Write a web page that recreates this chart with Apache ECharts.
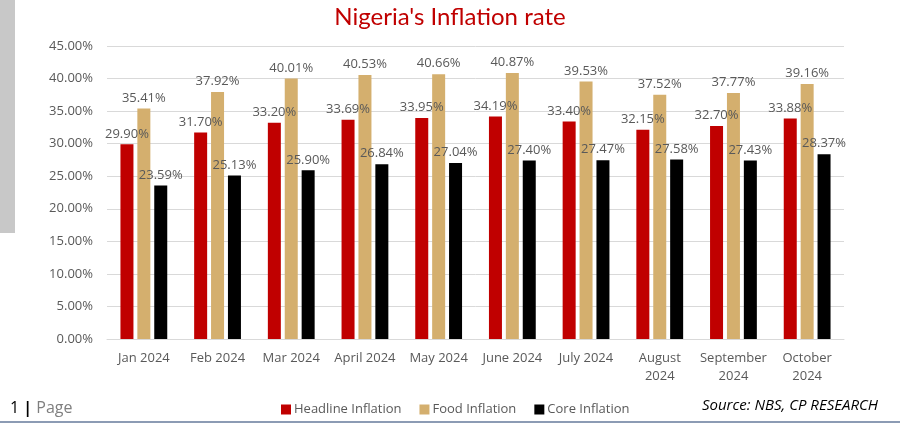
<!DOCTYPE html>
<html>
<head>
<meta charset="utf-8">
<script src="https://cdn.jsdelivr.net/npm/echarts@6/dist/echarts.min.js"></script>
<style>
  html, body { margin: 0; padding: 0; background: #fff; }
  #chart { width: 900px; height: 426px; }
</style>
</head>
<body>
<div id="chart"></div>
<script>
// months
var months = ['Jan 2024', 'Feb 2024', 'Mar 2024', 'April 2024', 'May 2024', 'June 2024',
  'July 2024', 'August\n2024', 'September\n2024', 'October\n2024'];
var headline = [29.90, 31.70, 33.20, 33.69, 33.95, 34.19, 33.40, 32.15, 32.70, 33.88];
var food = [35.41, 37.92, 40.01, 40.53, 40.66, 40.87, 39.53, 37.52, 37.77, 39.16];
var core = [23.59, 25.13, 25.90, 26.84, 27.04, 27.40, 27.47, 27.58, 27.43, 28.37];

var txt = '#595959';
var fontFam = '"Open Sans", "Noto Sans", sans-serif';

function mkSeries(name, data, color) {
  return {
    name: name,
    type: 'bar',
    data: data,
    barWidth: 13,
    barGap: '30%',
    itemStyle: { color: color },
    label: {
      show: true,
      position: 'top',
      distance: 4,
      color: txt,
      fontSize: 13,
      fontFamily: fontFam,
      formatter: function (p) { return p.value.toFixed(2) + '%'; }
    }
  };
}

var chart = echarts.init(document.getElementById('chart'));
chart.setOption({
  backgroundColor: '#fff',
  animation: false,
  textStyle: { fontFamily: fontFam },
  title: {
    text: "Nigeria's Inflation rate",
    left: 'center',
    top: 0,
    textStyle: { color: '#C00000', fontSize: 24, fontWeight: 'normal', fontFamily: 'Lato, sans-serif' }
  },
  legend: {
    bottom: 5,
    left: 276,
    itemWidth: 10,
    itemHeight: 10,
    itemGap: 18,
    icon: 'rect',
    textStyle: { color: txt, fontSize: 13, padding: [0, 0, 0, -2] },
    data: ['Headline Inflation', 'Food Inflation', 'Core Inflation']
  },
  grid: { left: 107, right: 56, top: 46, bottom: 87 },
  xAxis: {
    type: 'category',
    data: months,
    axisLine: { lineStyle: { color: '#D9D9D9' } },
    axisTick: { show: false },
    axisLabel: { color: txt, fontSize: 13, interval: 0, lineHeight: 18, margin: 10 }
  },
  yAxis: {
    type: 'value',
    min: 0,
    max: 45,
    interval: 5,
    axisLine: { show: false },
    axisTick: { show: false },
    splitLine: { lineStyle: { color: '#D9D9D9' } },
    axisLabel: {
      color: txt, fontSize: 13, margin: 14,
      formatter: function (v) { return v.toFixed(2) + '%'; }
    }
  },
  series: [
    mkSeries('Headline Inflation', headline, '#C00000'),
    mkSeries('Food Inflation', food, '#D4AF6E'),
    mkSeries('Core Inflation', core, '#000000')
  ],
  graphic: [
    { type: 'rect', left: 0, top: 0, shape: { width: 15, height: 233 }, style: { fill: '#C8C8C8' } },
    { type: 'rect', left: 0, top: 421, shape: { width: 900, height: 2 }, style: { fill: '#8C9BB4' } },
    {
      type: 'text', left: 10, top: 400,
      style: {
        text: '{a|1 }{b||}{c| Page}',
        rich: {
          a: { fontSize: 16, fill: '#000', fontFamily: fontFam },
          b: { fontSize: 16, fill: '#000', fontWeight: 'bold', fontFamily: fontFam },
          c: { fontSize: 16, fill: '#7F7F7F', fontFamily: fontFam }
        }
      }
    },
    {
      type: 'text', right: 22, top: 398,
      style: {
        text: 'Source: NBS, CP RESEARCH',
        fontSize: 15, fontStyle: 'italic', fill: '#000', fontFamily: fontFam
      }
    }
  ]
});
</script>
</body>
</html>
